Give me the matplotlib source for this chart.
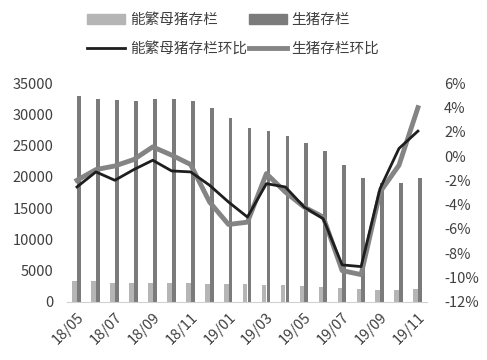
import numpy as np
import matplotlib
matplotlib.use("Agg")
import matplotlib.pyplot as plt
from matplotlib.patches import Patch
from matplotlib.lines import Line2D

plt.rcParams['font.family'] = ['Noto Sans CJK SC', 'DejaVu Sans']

months = ["18/05", "18/06", "18/07", "18/08", "18/09", "18/10", "18/11", "18/12",
          "19/01", "19/02", "19/03", "19/04", "19/05", "19/06", "19/07", "19/08",
          "19/09", "19/10", "19/11"]
sow_stock = [3270, 3270, 3050, 3050, 3050, 3050, 3050, 2890, 2780, 2780,
             2620, 2620, 2460, 2300, 2140, 1980, 1820, 1820, 1980]
hog_stock = [33000, 32480, 32330, 32170, 32480, 32480, 32170, 31090, 29390, 27790,
             27350, 26550, 25380, 24150, 21910, 19770, 18970, 18970, 19770]
sow_mom = [-2.55, -1.31, -2.0, -1.12, -0.35, -1.23, -1.31, -2.41, -3.79, -5.03,
           -2.28, -2.55, -4.21, -5.17, -8.97, -9.11, -2.69, 0.62, 2.05]
hog_mom = [-2.0, -1.12, -0.82, -0.29, 0.75, 0.07, -0.7, -3.79, -5.64, -5.45,
           -1.45, -2.97, -4.21, -5.03, -9.44, -9.77, -2.97, -0.76, 3.98]

c_sow = "#b5b5b5"
c_hog = "#7b7b7b"
c_sow_line = "#1e1e1e"
c_hog_line = "#848484"
txt = "#404040"

fig = plt.figure(figsize=(4.87, 3.6), dpi=100)
ax = fig.add_axes([0.1386, 0.162, 0.739, 0.607])
x = np.arange(len(months))

ax.bar(x - 0.12, sow_stock, width=0.24, color=c_sow, zorder=2)
ax.bar(x + 0.11, hog_stock, width=0.2, color=c_hog, zorder=2)
ax.set_ylim(0, 35000)
ax.set_yticks(np.arange(0, 35001, 5000))
ax.set_xlim(-0.5, len(months) - 0.5)
ax.set_xticks(x[::2])
ax.set_xticklabels(months[::2], rotation=45, ha="right", va="top",
                   rotation_mode="anchor")

ax2 = ax.twinx()
ax2.plot(x, sow_mom, color=c_sow_line, lw=2, zorder=4)
ax2.plot(x, hog_mom, color=c_hog_line, lw=3.5, zorder=3)
ax2.set_ylim(-12, 6)
ax2.set_yticks(np.arange(-12, 6.1, 2))
ax2.set_yticklabels([f"{v}%" for v in range(-12, 7, 2)])

for a in (ax, ax2):
    for s in a.spines.values():
        s.set_visible(False)
    a.tick_params(length=0, labelsize=10.5, colors=txt)
ax.spines["bottom"].set_visible(True)
ax.spines["bottom"].set_color("#d0d0d0")
ax.tick_params(axis="y", pad=10)
ax.tick_params(axis="x", pad=6)
ax2.tick_params(axis="y", pad=12)

handles = [Patch(color=c_sow), Line2D([], [], color=c_sow_line, lw=2),
           Patch(color=c_hog), Line2D([], [], color=c_hog_line, lw=3.5)]
labels = ["能繁母猪存栏", "能繁母猪存栏环比", "生猪存栏", "生猪存栏环比"]
fig.legend(handles, labels, ncol=2, loc="upper left", bbox_to_anchor=(0.152, 1.0),
           frameon=False, fontsize=10.5, handlelength=2.6, handleheight=0.6,
           handletextpad=0.35, columnspacing=0.1, labelspacing=1.0,
           labelcolor=txt)

fig.savefig("out.png", dpi=100)
